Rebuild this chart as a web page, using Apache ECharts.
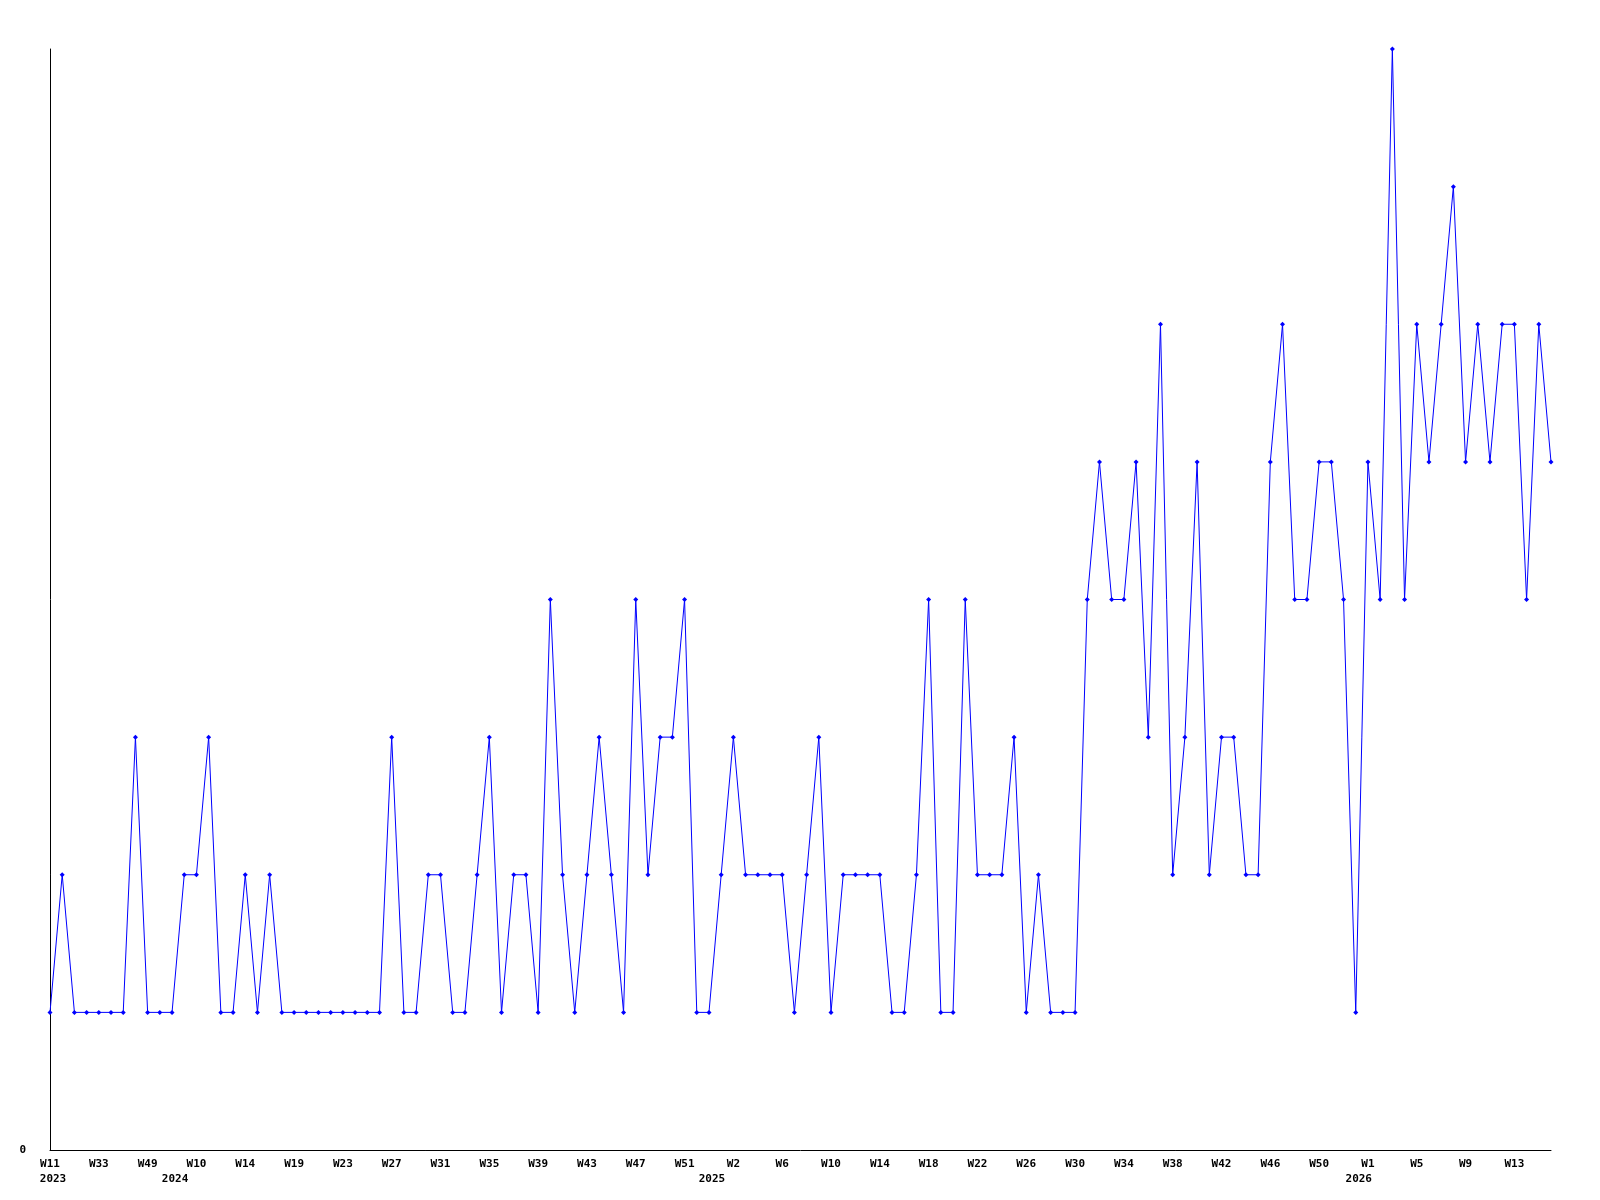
<!DOCTYPE html>
<html>
<head>
<meta charset="utf-8">
<script src="https://cdn.jsdelivr.net/npm/echarts@6/dist/echarts.min.js"></script>
<style>
  html, body { margin: 0; padding: 0; background: #fff; }
  #main { width: 1600px; height: 1200px; }
</style>
</head>
<body>
<div id="main"></div>
<script>
  // year of each weekly point
  var years = [
    2023, 2023, 2023, 2023, 2023, 2023, 2023, 2023, 2023, 2023,
    2024, 2024, 2024, 2024, 2024, 2024, 2024, 2024, 2024, 2024,
    2024, 2024, 2024, 2024, 2024, 2024, 2024, 2024, 2024, 2024,
    2024, 2024, 2024, 2024, 2024, 2024, 2024, 2024, 2024, 2024,
    2024, 2024, 2024, 2024, 2024, 2024, 2024, 2024, 2024, 2024,
    2024, 2024, 2024, 2024, 2025, 2025, 2025, 2025, 2025, 2025,
    2025, 2025, 2025, 2025, 2025, 2025, 2025, 2025, 2025, 2025,
    2025, 2025, 2025, 2025, 2025, 2025, 2025, 2025, 2025, 2025,
    2025, 2025, 2025, 2025, 2025, 2025, 2025, 2025, 2025, 2025,
    2025, 2025, 2025, 2025, 2025, 2025, 2025, 2025, 2025, 2025,
    2025, 2025, 2025, 2025, 2025, 2025, 2025, 2026, 2026, 2026,
    2026, 2026, 2026, 2026, 2026, 2026, 2026, 2026, 2026, 2026,
    2026, 2026, 2026, 2026
  ];
  // week number of each point
  var weeks = [
    11, 16, 21, 27, 33, 37, 41, 45, 49, 51,
    1, 5, 10, 11, 12, 13, 14, 15, 16, 18,
    19, 20, 21, 22, 23, 24, 25, 26, 27, 28,
    29, 30, 31, 32, 33, 34, 35, 36, 37, 38,
    39, 40, 41, 42, 43, 44, 45, 46, 47, 48,
    49, 50, 51, 52, 0, 1, 2, 3, 4, 5,
    6, 7, 8, 9, 10, 11, 12, 13, 14, 15,
    16, 17, 18, 19, 20, 21, 22, 23, 24, 25,
    26, 27, 28, 29, 30, 31, 32, 33, 34, 35,
    36, 37, 38, 39, 40, 41, 42, 43, 44, 45,
    46, 47, 48, 49, 50, 51, 52, 0, 1, 2,
    3, 4, 5, 6, 7, 8, 9, 10, 11, 12,
    13, 14, 15, 16
  ];
  var counts = [
    1, 2, 1, 1, 1, 1, 1, 3, 1, 1,
    1, 2, 2, 3, 1, 1, 2, 1, 2, 1,
    1, 1, 1, 1, 1, 1, 1, 1, 3, 1,
    1, 2, 2, 1, 1, 2, 3, 1, 2, 2,
    1, 4, 2, 1, 2, 3, 2, 1, 4, 2,
    3, 3, 4, 1, 1, 2, 3, 2, 2, 2,
    2, 1, 2, 3, 1, 2, 2, 2, 2, 1,
    1, 2, 4, 1, 1, 4, 2, 2, 2, 3,
    1, 2, 1, 1, 1, 4, 5, 4, 4, 5,
    3, 6, 2, 3, 5, 2, 3, 3, 2, 2,
    5, 6, 4, 4, 5, 5, 4, 1, 5, 4,
    8, 4, 6, 5, 6, 7, 5, 6, 5, 6,
    6, 4, 6, 5
  ];

  var categories = [];
  for (var i = 0; i < years.length; i++) {
    categories.push(years[i] + '-W' + weeks[i]);
  }

  function firstOfYear(idx) {
    return idx === 0 || years[idx] !== years[idx - 1];
  }

  var labelFont = {
    color: '#000',
    fontFamily: 'DejaVu Sans Mono',
    fontWeight: 'bold',
    fontSize: 11,
    lineHeight: 15
  };

  var chart = echarts.init(document.getElementById('main'), null, { renderer: 'canvas' });
  chart.setOption({
    backgroundColor: '#ffffff',
    animation: false,
    grid: {
      left: 50,
      right: 49,
      top: 49,
      bottom: 50,
      containLabel: false,
      outerBoundsMode: 'none'
    },
    xAxis: {
      type: 'category',
      boundaryGap: false,
      data: categories,
      axisLine: { show: true, lineStyle: { color: '#000', width: 1 } },
      axisTick: { show: false },
      splitLine: { show: false },
      axisLabel: {
        interval: function (idx) {
          return idx % 4 === 0 || firstOfYear(idx);
        },
        formatter: function (value, idx) {
          var txt = idx % 4 === 0 ? '{w|W' + weeks[idx] + '}' : '{w| }';
          if (firstOfYear(idx)) {
            txt += '\n{y|' + years[idx] + '}';
          }
          return txt;
        },
        rich: {
          w: labelFont,
          y: Object.assign({ padding: [0, 0, 0, 6] }, labelFont)
        },
        color: '#000',
        fontFamily: 'DejaVu Sans Mono',
        fontWeight: 'bold',
        fontSize: 11,
        lineHeight: 15,
        margin: 7,
        hideOverlap: false
      }
    },
    yAxis: {
      type: 'value',
      min: 0,
      max: 8,
      interval: 1,
      axisLine: { show: true, lineStyle: { color: '#000', width: 1 } },
      axisTick: { show: false },
      splitLine: { show: false },
      axisLabel: {
        formatter: function (v) {
          return v === 0 ? '0' : '';
        },
        color: '#000',
        fontFamily: 'DejaVu Sans Mono',
        fontWeight: 'bold',
        fontSize: 11,
        margin: 24
      }
    },
    series: [
      {
        type: 'line',
        data: counts,
        symbol: 'diamond',
        symbolSize: 5,
        showAllSymbol: true,
        clip: false,
        lineStyle: { color: '#0000ff', width: 1 },
        itemStyle: { color: '#0000ff' }
      }
    ]
  });
</script>
</body>
</html>
